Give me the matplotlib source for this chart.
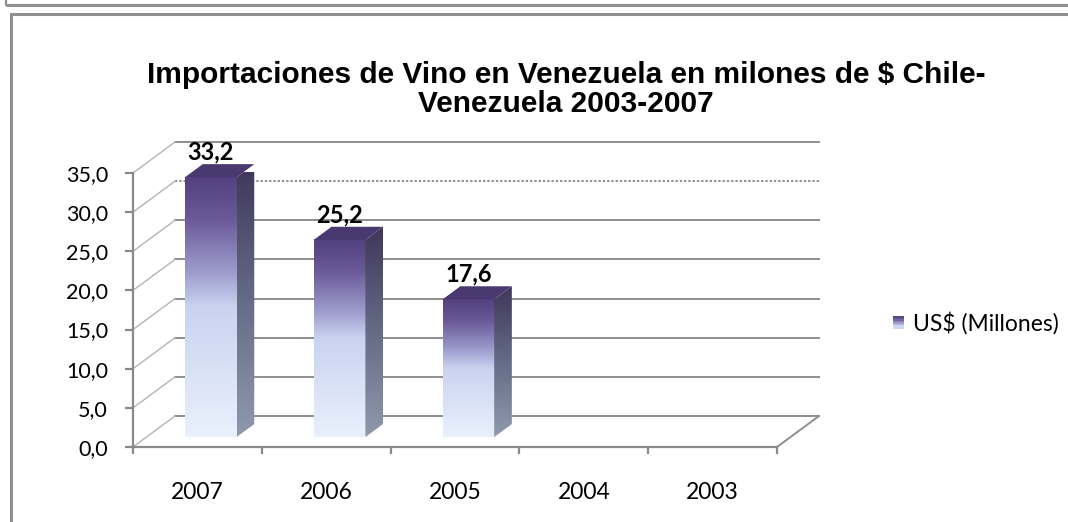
import numpy as np
import matplotlib
matplotlib.use("Agg")
import matplotlib.pyplot as plt
from matplotlib.colors import LinearSegmentedColormap
from matplotlib.patches import Polygon, Rectangle
from matplotlib.lines import Line2D
from matplotlib.transforms import IdentityTransform, ScaledTranslation
from matplotlib.legend_handler import HandlerBase
from matplotlib import font_manager

# ---- data -------------------------------------------------------------
years = ["2007", "2006", "2005", "2004", "2003"]
values = [33.2, 25.2, 17.6, None, None]
y_ticks = [0, 5, 10, 15, 20, 25, 30, 35]
series_name = "US$ (Millones)"
title_lines = ["Importaciones de Vino en Venezuela en milones de $ Chile-",
               "Venezuela 2003-2007"]

# ---- styling ----------------------------------------------------------
W, H = 1068, 522
DPI = 100
AXIS_GREY = "#898989"
GRID_GREY = "#8e8e8e"
WALL_GREY = "#b4b4b4"
TEXT_FONT = "Lato"

title_fp = font_manager.FontProperties(
    family=["Liberation Sans", "Arial", "DejaVu Sans"], weight="bold", size=21.5)

front_cmap = LinearSegmentedColormap.from_list(
    "front", [(0.0, "#eaf0fc"), (0.5, "#c9d3f0"), (0.64, "#9c9acb"),
              (0.84, "#6a5a98"), (1.0, "#54417f")])
side_cmap = LinearSegmentedColormap.from_list(
    "side", [(0.0, "#8f99ad"), (0.5, "#656c86"), (1.0, "#3f3659")])
TOP_COLOR = "#4a3870"

DEPTH_PX = np.array([42.0, 31.0])   # offset from the front plane to the back wall
BAR_D0, BAR_D1 = 0.32, 0.74         # bar depth span (fraction of the floor depth)
BAR_W = 0.40                        # bar width in category units

fig = plt.figure(figsize=(W / DPI, H / DPI), dpi=DPI)
fig.patch.set_facecolor("white")

# outer frame of the chart sheet
frame = fig.add_axes([0, 0, 1, 1])
frame.set_xlim(0, W)
frame.set_ylim(H, 0)
frame.axis("off")
frame.plot([6, W], [4.5, 4.5], color="#8f8f8f", lw=2.2, solid_capstyle="butt")
frame.plot([5.5, 5.5], [0, 5.5], color="#8f8f8f", lw=1.6, solid_capstyle="butt")
frame.plot([9.5, W], [13.5, 13.5], color="#8f8f8f", lw=2.2, solid_capstyle="butt")
frame.plot([10.5, 10.5], [12.5, H], color="#8f8f8f", lw=2.2, solid_capstyle="butt")

# ---- main axes (front plane of the 3-D box) ---------------------------
ax = fig.add_axes([133 / W, 1 - 447 / H, 644 / W, 274 / H])
ax.set_xlim(0, len(years))
ax.set_ylim(0, 35)
ax.set_autoscale_on(False)
ax.patch.set_visible(False)
for s in ("top", "right"):
    ax.spines[s].set_visible(False)
for s in ("left", "bottom"):
    ax.spines[s].set_color(AXIS_GREY)
    ax.spines[s].set_linewidth(1.6)

ax.set_yticks(y_ticks)
ax.set_yticklabels([f"{v:.1f}".replace(".", ",") for v in y_ticks],
                   fontsize=15.5, family=TEXT_FONT)
ax.tick_params(axis="y", length=6, width=1.6, color=AXIS_GREY, pad=12)

ax.set_xticks(np.arange(len(years) + 1))
ax.set_xticklabels([])
ax.tick_params(axis="x", which="major", length=5, width=1.6, color=AXIS_GREY)
ax.set_xticks(np.arange(len(years)) + 0.5, minor=True)
ax.set_xticklabels(years, minor=True, fontsize=16.5, family=TEXT_FONT)
ax.tick_params(axis="x", which="minor", length=0, pad=25)

back = ax.transData + ScaledTranslation(DEPTH_PX[0] / DPI, DEPTH_PX[1] / DPI,
                                        fig.dpi_scale_trans)


def proj(x, y, d):
    """Display position of data point (x, y) pushed d (0..1) into depth."""
    return ax.transData.transform((x, y)) + d * DEPTH_PX


ident = IdentityTransform()

# back wall gridlines and side-wall diagonals
for v in y_ticks:
    ls = (0, (1.2, 1.0)) if v == 30 else "-"
    ax.plot([0, len(years)], [v, v], transform=back, color=GRID_GREY,
            lw=1.4, ls=ls, clip_on=False, zorder=1)
    p0, p1 = proj(0, v, 0), proj(0, v, 1)
    ax.add_line(Line2D([p0[0], p1[0]], [p0[1], p1[1]], transform=ident,
                       color=WALL_GREY, lw=1.0, clip_on=False, zorder=1))
# right edge of the floor
p0, p1 = proj(len(years), 0, 0), proj(len(years), 0, 1)
ax.add_line(Line2D([p0[0], p1[0]], [p0[1], p1[1]], transform=ident,
                   color=GRID_GREY, lw=1.4, clip_on=False, zorder=1))

grad = np.linspace(0, 1, 256).reshape(-1, 1)

# ---- 3-D bars ----------------------------------------------------------
for i, v in enumerate(values):
    if v is None:
        continue
    x0, x1 = i + 0.5 - BAR_W / 2, i + 0.5 + BAR_W / 2
    fbl, ftr = proj(x0, 0, BAR_D0), proj(x1, v, BAR_D0)
    # front face
    im = ax.imshow(grad, cmap=front_cmap, origin="lower", aspect="auto",
                   extent=(fbl[0], ftr[0], fbl[1], ftr[1]), transform=ident,
                   interpolation="bilinear", zorder=3)
    im.set_clip_box(None)
    # side face
    side = [proj(x1, 0, BAR_D0), proj(x1, 0, BAR_D1),
            proj(x1, v, BAR_D1), proj(x1, v, BAR_D0)]
    sx = [p[0] for p in side]
    sy = [p[1] for p in side]
    im2 = ax.imshow(grad, cmap=side_cmap, origin="lower", aspect="auto",
                    extent=(min(sx), max(sx), min(sy), max(sy)),
                    transform=ident, interpolation="bilinear", zorder=3)
    clip = Polygon(side, closed=True, transform=ident)
    im2.set_clip_box(None)
    im2.set_clip_path(clip)
    # top face
    top = [proj(x0, v, BAR_D0), proj(x1, v, BAR_D0),
           proj(x1, v, BAR_D1), proj(x0, v, BAR_D1)]
    ax.add_patch(Polygon(top, closed=True, transform=ident,
                         facecolor=TOP_COLOR, edgecolor="none",
                         clip_on=False, zorder=4))
    # value label
    ax.annotate(f"{v:.1f}".replace(".", ","), xy=proj(i + 0.5, v, BAR_D0),
                xycoords=ident, xytext=(0, 25), textcoords="offset pixels",
                ha="center", va="center", fontsize=17, fontweight="bold",
                family=TEXT_FONT, zorder=5)


# ---- legend with a gradient swatch -------------------------------------
class GradientHandler(HandlerBase):
    def create_artists(self, legend, orig_handle, xdescent, ydescent,
                       width, height, fontsize, trans):
        n = 8
        arts = []
        for k in range(n):
            c = front_cmap(0.35 + 0.65 * (k + 0.5) / n)
            arts.append(Rectangle((-xdescent, -ydescent + k * height / n),
                                  width, height / n + 0.3, facecolor=c,
                                  edgecolor="none", transform=trans))
        return arts


swatch = Rectangle((0, 0), 1, 1)
leg = fig.legend([swatch], [series_name], handler_map={Rectangle: GradientHandler()},
                 loc="center left", bbox_to_anchor=(893 / W, 1 - 323 / H),
                 frameon=False, borderpad=0, borderaxespad=0,
                 handlelength=0.46, handleheight=0.46, handletextpad=0.42,
                 prop={"family": TEXT_FONT, "size": 16.5})

# ---- title ---------------------------------------------------------------
fig.text(566 / W, 1 - 75 / H, title_lines[0], ha="center", va="center",
         fontproperties=title_fp)
fig.text(566 / W, 1 - 104 / H, title_lines[1], ha="center", va="center",
         fontproperties=title_fp)

fig.savefig("out.png", dpi=DPI, facecolor="white")
